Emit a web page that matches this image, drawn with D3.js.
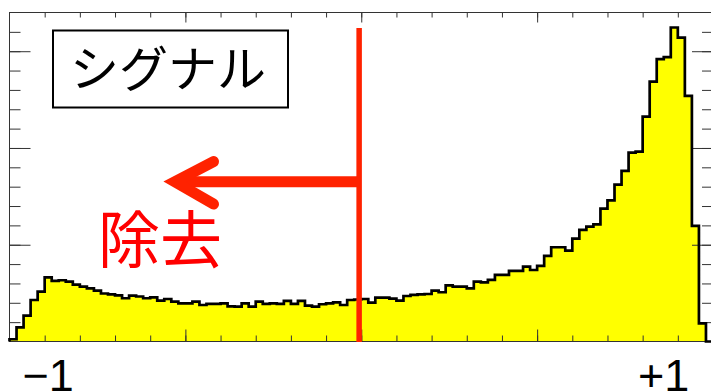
<!DOCTYPE html>
<html>
<head>
<meta charset="utf-8">
<script src="https://cdn.jsdelivr.net/npm/d3@7"></script>
<style>
  html, body { margin: 0; padding: 0; background: #ffffff; }
  svg { display: block; }
</style>
</head>
<body>
<svg id="chart" width="711" height="392"></svg>
<script>
// Classifier response of the signal sample: 100 equal bins over [-1, 1]
const binLow = -1;
const binHigh = 1;
const signalCounts = [
  23, 147, 267, 429, 515, 662, 626, 633, 618, 587,
  567, 550, 525, 496, 486, 476, 447, 474, 465, 447,
  457, 422, 439, 412, 395, 395, 412, 377, 388, 388,
  395, 362, 360, 395, 360, 412, 388, 395, 388, 419,
  388, 419, 370, 360, 385, 395, 405, 377, 429, 434,
  439, 401, 453, 453, 443, 422, 470, 481, 486, 491,
  525, 509, 581, 567, 567, 550, 618, 610, 636, 688,
  688, 729, 729, 773, 739, 781, 884, 974, 974, 939,
  1063, 1153, 1187, 1210, 1373, 1458, 1621, 1763, 1952, 1963,
  2324, 2686, 2918, 2939, 3245, 3141, 2538, 1194, 188, 0
];

// Axis extents and tick spacing
const yMax = 3400;
const xMinorTicks = d3.range(-0.9, 0.95, 0.1).map(v => +v.toFixed(2));
const xMajorTicks = [-0.5, 0, 0.5];
const yMinorTicks = d3.range(200, 3400, 200);
const yMajorTicks = [1000, 2000, 3000];

// Text labels under the axis
const xLabelTexts = ["\u22121", "+1"];
const xLabelValues = [-0.89, 0.86];

// Legend entry, cut position and the region it removes
const legendText = "シグナル";
const cutValue = -0.006;
const rejectText = "除去";
const arrowShaftY = 1650;
const arrowTipX = -0.53;
const arrowWingX = -0.42;
const arrowWingY = [1860, 1420];

const svg = d3.select("#chart");
const frame = { left: 9.5, right: 713, top: 12.5, bottom: 341.5 };

const x = d3.scaleLinear().domain([binLow, binHigh]).range([frame.left, frame.right]);
const y = d3.scaleLinear().domain([0, yMax]).range([frame.bottom, frame.top]);

// Histogram outline points (step after each bin's low edge)
const nBins = signalCounts.length;
const binWidth = (binHigh - binLow) / nBins;
const pts = [[binLow, 0]];
signalCounts.forEach((c, i) => pts.push([binLow + i * binWidth, c]));
pts.push([binHigh, signalCounts[nBins - 1]]);
pts.push([binHigh, 0]);

const area = d3.area()
  .x(d => x(d[0]))
  .y0(y(0))
  .y1(d => y(d[1]))
  .curve(d3.curveStepAfter);

const line = d3.line()
  .x(d => x(d[0]))
  .y(d => y(d[1]))
  .curve(d3.curveStepAfter);

svg.append("path")
  .attr("d", area(pts))
  .attr("fill", "#ffff00");

// Ticks on all four sides, pointing inward
function styleAxis(g) {
  g.select(".domain").remove();
  g.selectAll(".tick line").attr("stroke", "#333").attr("stroke-width", 1);
  g.selectAll(".tick text").remove();
}
const tickSets = [
  [d3.axisTop(x).tickValues(xMinorTicks).tickSize(6), `translate(0,${frame.bottom})`],
  [d3.axisTop(x).tickValues(xMajorTicks).tickSize(12), `translate(0,${frame.bottom})`],
  [d3.axisBottom(x).tickValues(xMinorTicks).tickSize(5), `translate(0,${frame.top})`],
  [d3.axisBottom(x).tickValues(xMajorTicks).tickSize(10), `translate(0,${frame.top})`],
  [d3.axisRight(y).tickValues(yMinorTicks).tickSize(11), `translate(${frame.left},0)`],
  [d3.axisRight(y).tickValues(yMajorTicks).tickSize(21), `translate(${frame.left},0)`],
  [d3.axisLeft(y).tickValues(yMinorTicks).tickSize(11), `translate(${frame.right},0)`],
  [d3.axisLeft(y).tickValues(yMajorTicks).tickSize(21), `translate(${frame.right},0)`]
];
tickSets.forEach(([ax, tr]) => {
  svg.append("g").attr("transform", tr).call(ax).call(styleAxis);
});

// Frame
svg.append("rect")
  .attr("x", frame.left).attr("y", frame.top)
  .attr("width", frame.right - frame.left).attr("height", frame.bottom - frame.top)
  .attr("fill", "none").attr("stroke", "#333").attr("stroke-width", 1);

// Histogram outline
svg.append("path")
  .attr("d", line(pts))
  .attr("fill", "none")
  .attr("stroke", "#000")
  .attr("stroke-width", 2.7)
  .attr("stroke-linejoin", "miter");

// Axis labels
svg.selectAll("text.xlab")
  .data(xLabelTexts)
  .enter().append("text")
  .attr("class", "xlab")
  .attr("x", (d, i) => x(xLabelValues[i]))
  .attr("y", 391)
  .attr("text-anchor", "middle")
  .attr("font-family", "'Liberation Sans', Arial, sans-serif")
  .attr("font-size", 45)
  .attr("fill", "#000")
  .text(d => d);

// Legend box
svg.append("rect")
  .attr("x", 53).attr("y", 30.5)
  .attr("width", 235).attr("height", 77)
  .attr("fill", "#fff").attr("stroke", "#000").attr("stroke-width", 2);
svg.append("text")
  .attr("x", 168).attr("y", 87)
  .attr("text-anchor", "middle")
  .attr("font-family", "'Noto Sans CJK JP', sans-serif")
  .attr("font-size", 49)
  .attr("fill", "#000")
  .text(legendText);

// Cut line and rejection arrow
const red = "#ff2200";
svg.append("line")
  .attr("x1", x(cutValue)).attr("x2", x(cutValue))
  .attr("y1", 28).attr("y2", frame.bottom + 0.5)
  .attr("stroke", red).attr("stroke-width", 5.5);

svg.append("line")
  .attr("x1", x(cutValue)).attr("x2", x(arrowTipX) + 3)
  .attr("y1", y(arrowShaftY)).attr("y2", y(arrowShaftY))
  .attr("stroke", red).attr("stroke-width", 11);

svg.append("path")
  .attr("d", `M${x(arrowWingX)},${y(arrowWingY[0])}L${x(arrowTipX)},${y(arrowShaftY)}L${x(arrowWingX)},${y(arrowWingY[1])}`)
  .attr("fill", "none")
  .attr("stroke", red).attr("stroke-width", 11)
  .attr("stroke-linecap", "round").attr("stroke-linejoin", "miter");

svg.append("text")
  .attr("x", 160).attr("y", 263)
  .attr("text-anchor", "middle")
  .attr("font-family", "'Noto Sans CJK JP', sans-serif")
  .attr("font-size", 62)
  .attr("fill", "#ff0000")
  .text(rejectText);
</script>
</body>
</html>
